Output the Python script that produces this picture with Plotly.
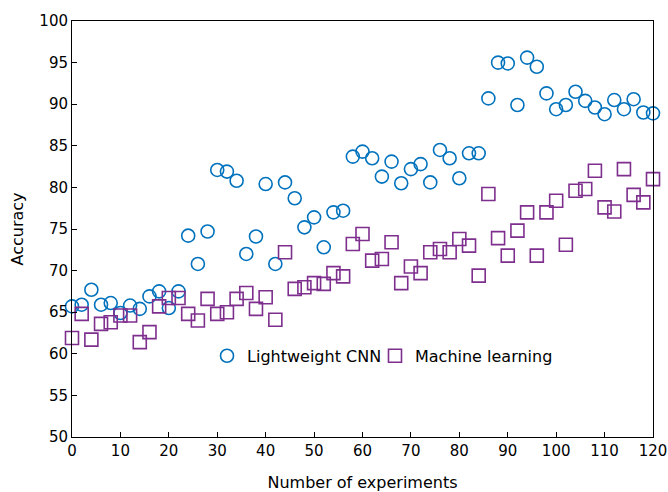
import plotly.graph_objects as go

experiments = list(range(0, 121, 2))

cnn_accuracy = [65.7, 65.9, 67.7, 65.9, 66.1, 64.9, 65.8, 65.4, 66.9, 67.5,
                65.5, 67.5, 74.2, 70.8, 74.7, 82.1, 81.9, 80.8, 72.0, 74.1,
                80.4, 70.8, 80.6, 78.7, 75.2, 76.4, 72.8, 77.0, 77.2, 83.7,
                84.3, 83.5, 81.3, 83.1, 80.5, 82.2, 82.8, 80.6, 84.5, 83.5,
                81.1, 84.1, 84.1, 90.7, 95.0, 94.9, 89.9, 95.6, 94.5, 91.3,
                89.4, 89.9, 91.5, 90.4, 89.6, 88.8, 90.5, 89.4, 90.6, 89.0,
                88.9]

ml_accuracy = [61.9, 64.8, 61.7, 63.6, 63.8, 64.6, 64.6, 61.4, 62.6, 65.7,
               66.7, 66.7, 64.8, 64.0, 66.6, 64.8, 65.0, 66.6, 67.3, 65.4,
               66.8, 64.1, 72.2, 67.8, 68.0, 68.5, 68.4, 69.7, 69.3, 73.2,
               74.4, 71.2, 71.4, 73.4, 68.5, 70.5, 69.7, 72.2, 72.6, 72.2,
               73.8, 73.0, 69.4, 79.2, 73.9, 71.8, 74.8, 77.0, 71.8, 77.0,
               78.4, 73.1, 79.6, 79.8, 82.0, 77.6, 77.1, 82.2, 79.1, 78.2,
               81.0]

x_ticks = list(range(0, 121, 10))
y_ticks = list(range(50, 101, 5))

blue = "#0072BD"
purple = "#7E2F8E"
FONT = "DejaVu Sans"

fig = go.Figure()
fig.add_trace(go.Scatter(
    x=experiments, y=cnn_accuracy, mode="markers", name="Lightweight CNN",
    marker=dict(symbol="circle-open", size=13, color=blue, line=dict(width=1.6, color=blue)),
    cliponaxis=False, legend="legend",
))
fig.add_trace(go.Scatter(
    x=experiments, y=ml_accuracy, mode="markers", name="Machine learning",
    marker=dict(symbol="square-open", size=13, color=purple, line=dict(width=1.6, color=purple)),
    cliponaxis=False, legend="legend2",
))

axis_common = dict(
    showline=True, linecolor="black", linewidth=1, mirror=True,
    ticks="inside", ticklen=5, tickcolor="black", showgrid=False, zeroline=False,
    tickfont=dict(family=FONT, size=15, color="black"),
    automargin=False, ticklabeloverflow="allow",
)

legend_common = dict(orientation="h", y=0.195, xanchor="left", yanchor="middle",
                     bgcolor="rgba(0,0,0,0)", font=dict(family=FONT, size=16),
                     itemwidth=30)

fig.update_layout(
    width=668, height=492,
    margin=dict(l=72, r=15, t=21, b=55),
    paper_bgcolor="white", plot_bgcolor="white",
    font=dict(family=FONT, size=16, color="black"),
    xaxis=dict(range=[0, 120], tickvals=x_ticks,
               title=dict(text="Number of experiments", standoff=17,
                          font=dict(family=FONT, size=16)),
               **axis_common),
    yaxis=dict(range=[50, 100], tickvals=y_ticks,
               title=dict(text="Accuracy", standoff=11,
                          font=dict(family=FONT, size=16)),
               **axis_common),
    legend=dict(x=0.2324, **legend_common),
    legend2=dict(x=0.5215, **legend_common),
    showlegend=True,
)

fig.write_html("out.html", config={"displayModeBar": False},
               post_script="document.body.style.margin='0';")
